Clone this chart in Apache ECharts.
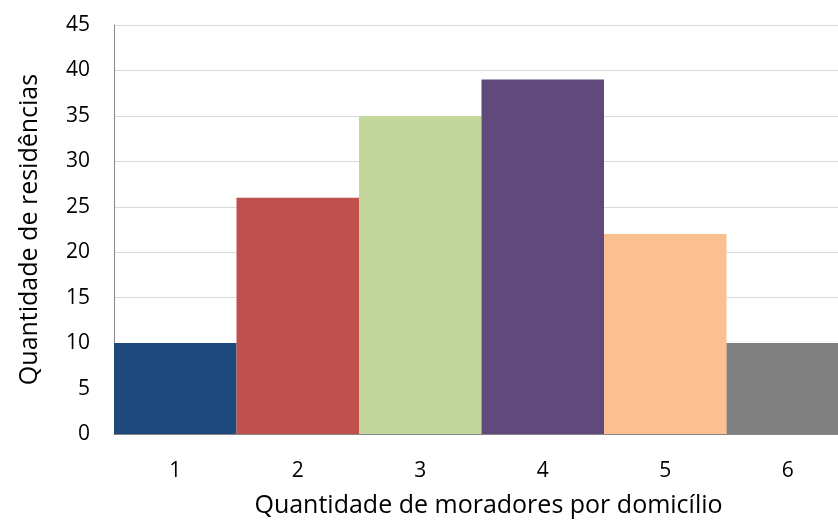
<!DOCTYPE html>
<html><head><meta charset="utf-8">
<script src="https://cdn.jsdelivr.net/npm/echarts@6/dist/echarts.min.js"></script>
<style>html,body{margin:0;padding:0;background:#fff}#c{width:838px;height:523px}</style>
</head><body><div id="c"></div>
<script>
const categories = [1, 2, 3, 4, 5, 6];
const values = [10, 26, 35, 39, 22, 10];
const colors = ['#1F497D','#C0504D','#C3D69B','#604A7B','#FAC090','#808080'];
const yTicks = {min:0, max:45, interval:5};
const xTitle = 'Quantidade de moradores por domicílio';
const yTitle = 'Quantidade de residências';

const chart = echarts.init(document.getElementById('c'), null, {renderer:'canvas'});
const font = '"Open Sans", sans-serif';
// plot area is 724px wide, each category band ~122.5px; the last band is cut by the page edge
const bandPx = 122.5, plotPx = 724;
chart.setOption({
  animation:false,
  backgroundColor:'#fff',
  grid:{left:114, right:0, top:25, bottom:86, containLabel:false},
  xAxis:{
    type:'value', min:0.5, max:0.5 + plotPx / bandPx, interval:0.5,
    name:xTitle, nameLocation:'middle', nameGap:59,
    nameTextStyle:{fontFamily:font, fontSize:25, color:'#000', padding:[0,0,0,25]},
    axisLine:{show:true, lineStyle:{color:'#868686', width:1}},
    axisTick:{show:false},
    splitLine:{show:false},
    axisLabel:{fontFamily:font, fontSize:21, color:'#000', margin:27,
      showMinLabel:true, showMaxLabel:false,
      formatter:v => Number.isInteger(v) ? String(v) : ''}
  },
  yAxis:{
    type:'value', min:yTicks.min, max:yTicks.max, interval:yTicks.interval,
    name:yTitle, nameLocation:'middle', nameGap:72,
    nameTextStyle:{fontFamily:font, fontSize:25, color:'#000'},
    axisLine:{show:true, lineStyle:{color:'#868686', width:1}},
    axisTick:{show:false},
    axisLabel:{fontFamily:font, fontSize:21, color:'#000', margin:24},
    splitLine:{lineStyle:{color:'#d9d9d9', width:1}}
  },
  series:[{
    type:'bar', barWidth:'100%', barCategoryGap:'0%', clip:true,
    data: values.map((v,i)=>({value:[categories[i], v], itemStyle:{color:colors[i]}}))
  }]
});
</script></body></html>
